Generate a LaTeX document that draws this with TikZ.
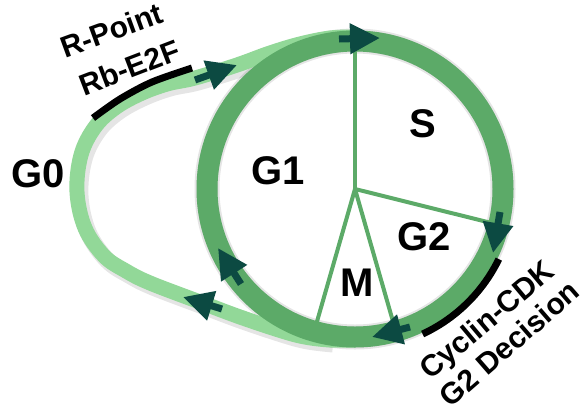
\documentclass[tikz,border=0pt]{standalone}
\usepackage{fontspec}
\setmainfont{Liberation Sans}
\usetikzlibrary{arrows.meta,calc}
\definecolor{ringg}{RGB}{92,170,104}
\definecolor{lightg}{RGB}{146,216,152}
\definecolor{darkt}{RGB}{12,74,66}
\begin{document}
\begin{tikzpicture}[x=1pt,y=-1pt,
  ringline/.style={draw=ringg, line width=21pt},
  spoke/.style={draw=ringg, line width=4pt},
  gzeroline/.style={draw=lightg, line width=15pt},
  flowarrow/.style={draw=darkt, line width=7pt, -{Triangle[length=30pt,width=29pt]}},
  blockbar/.style={draw=black, line width=7pt},
  shadowline/.style={draw=black, opacity=0.10},
  phase/.style={font=\fontsize{40}{44}\selectfont\bfseries, inner sep=0pt, text height=0.72em, text depth=0pt},
  note/.style={font=\fontsize{30}{33}\selectfont\bfseries, inner sep=0pt, text height=0.72em, text depth=0pt}]
\useasboundingbox (0,0) rectangle (586,413);
\coordinate (C) at (355,189);
% ---- shadows
\begin{scope}[shift={(3,4)}]
  \draw[shadowline, line width=25pt] (C) circle (148pt);
  \draw[shadowline, line width=21pt] (C) circle (148pt);
  \draw[shadowline, line width=17pt, line cap=butt] plot[smooth, tension=0.6] coordinates {(330,340) (305,337) (282,331) (240,317) (200,302) (150,283) (126,271) (104,256) (85,228) (77,192) (81,155) (95,127) (115,108) (140,94) (167,84) (195,78) (237,65) (270,53) (300,44) (330,38)};
\end{scope}
% ---- G0 loop
\draw[gzeroline, line cap=butt] plot[smooth, tension=0.6] coordinates {(355,340) (330,340) (305,337) (282,331) (240,317) (200,302) (150,283) (126,271) (104,256) (85,228) (77,192) (81,155) (95,127) (115,108) (140,94) (167,84) (195,78) (237,65) (270,53) (300,44) (330,38) (355,37)};
\draw[blockbar] plot[smooth] coordinates {(93,118) (120,99) (152,82) (192,68)};
% ---- spokes
\draw[spoke] (C) -- ($(C)+(-90:145)$);
\draw[spoke] (C) -- ($(C)+(14:145)$);
\draw[spoke] (C) -- ($(C)+(74:145)$);
\draw[spoke] (C) -- ($(C)+(106:145)$);
% ---- ring
\draw[ringline] (C) circle (148pt);
\draw[blockbar] plot[domain=26:65, samples=40] ({355+160*cos(\x)}, {189+160*sin(\x)});
% ---- arrows
\coordinate (a1s) at (339,39);  \coordinate (a1e) at (380,38);
\coordinate (a2s) at (500,212); \coordinate (a2e) at (493,253);
\coordinate (a3s) at (410,327); \coordinate (a3e) at (372,337);
\coordinate (a4s) at (241,284); \coordinate (a4e) at (218,248);
\coordinate (a5s) at (195,80);  \coordinate (a5e) at (237,65);
\coordinate (a6s) at (222,309); \coordinate (a6e) at (183,297);
\draw[flowarrow] (a1s) -- (a1e);
\draw[flowarrow] (a2s) -- (a2e);
\draw[flowarrow] (a3s) -- (a3e);
\draw[flowarrow] (a4s) -- (a4e);
\draw[flowarrow] (a5s) -- (a5e);
\draw[flowarrow] (a6s) -- (a6e);
% ---- phase labels
\node[phase] (g1) at (278,181) {G1};
\node[phase] (s) at (423,134) {S};
\node[phase] (g2) at (424,247) {G2};
\node[phase] (m) at (357,293) {M};
\node[phase] (g0) at (38,184) {G0};
% ---- notes
\node[note, rotate=20] (rpoint) at (114,37) {R-Point};
\node[note, rotate=21] (rbe2f) at (132,74) {Rb-E2F};
\node[note, rotate=40] (cyclin) at (491,325) {Cyclin-CDK};
\node[note, rotate=41] (g2dec) at (514,349) {G2 Decision};
\end{tikzpicture}
\end{document}
